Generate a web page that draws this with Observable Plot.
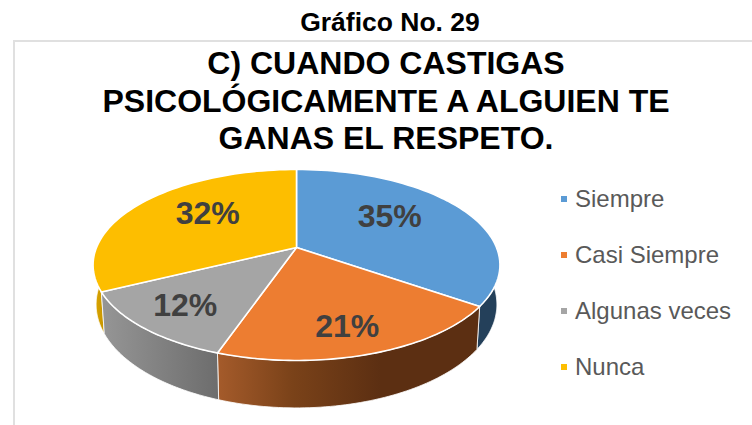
<!DOCTYPE html>
<html><head><meta charset="utf-8">
<script src="https://cdn.jsdelivr.net/npm/d3@7"></script>
<script src="https://cdn.jsdelivr.net/npm/@observablehq/plot@0.6"></script>
<style>
html,body{margin:0;padding:0;background:#fff;overflow:hidden}
#page{position:relative;width:752px;height:425px;font-family:"Liberation Sans",Arial,sans-serif;overflow:hidden}
#head{position:absolute;left:0;width:780px;top:7px;text-align:center;font-size:26.5px;line-height:30px;font-weight:bold;color:#000}
#frame{position:absolute;left:13px;top:40px;width:760px;height:400px;border-left:2px solid #e0e0e0;border-top:2px solid #e0e0e0}
#title{position:absolute;left:0;width:772px;top:45px;text-align:center;font-size:32px;line-height:37.5px;font-weight:bold;color:#000}
#chart{position:absolute;left:10px;top:160px}
#chart svg{display:block;overflow:visible;background:none}
.li{position:absolute;left:575px;font-size:24px;line-height:28px;color:#595959;white-space:nowrap}
.sw{position:absolute;left:561px;width:6px;height:6px}
</style></head><body>
<div id="page">
<div id="head"></div><div id="frame"></div><div id="title"></div><div id="chart"></div>
</div>
<script>
const heading = "Gráfico No. 29";
const titleLines = ["C) CUANDO CASTIGAS","PSICOLÓGICAMENTE A ALGUIEN TE","GANAS EL RESPETO."];
const categories = ["Siempre","Casi Siempre","Algunas veces","Nunca"];
const values = [34.7,20.6,12.4,32.3];
const colors = ["#5B9BD5","#ED7D31","#A5A5A5","#FDBE00"];

// layout of the tilted pie
const apex = [296,247], A = 200, B = 92.3, k = 0.183;
const apexLow = [296,285], ALow = 197, BLow = 100;
const labelRadius = [.55,.78,.76,.55], labelShift = [[0,-8],[-5,0],[1,0],[0,-8]];
const legendY = [199,255,311,367];

const rim = (t, r=1, c=apex, a=A, b=B) => {
  const th = t*Math.PI/180, w = 1 + k*r*Math.cos(th);
  return [c[0] + a*r*Math.sin(th)/w, c[1] - b*r*Math.cos(th)/w];
};
const total = d3.sum(values);
let acc = 0;
const slices = categories.map((name,i)=>{
  const start = acc/total*360; acc += values[i]; const end = acc/total*360;
  return {name, i, start, end, value: values[i]};
});
const arc = (a,b,f) => d3.range(0,61).map(j=>f(a+(b-a)*j/60));

const topPts = slices.flatMap(s=>{
  const ring = [apex, ...arc(s.start,s.end,t=>rim(t)), apex];
  return ring.map(([x,y])=>({x,y,name:s.name}));
});
const sidePts = (s,a,b)=>[
  ...arc(a,b,t=>rim(t)),
  ...arc(b,a,t=>rim(t,1,apexLow,ALow,BLow)),
  rim(a)
].map(([x,y])=>({x,y,name:s.name}));

const sides = [
  {s:slices[0],fill:"#24405A"},
  {s:slices[3],fill:"url(#gy)"},
  {s:slices[1],fill:"url(#go)"},
  {s:slices[2],fill:"url(#gg)"}
].map(d=>{
  const [a,b] = d.s.i===0 ? [90,d.s.end] : d.s.i===3 ? [d.s.start,270] : [d.s.start,d.s.end];
  return Plot.line(sidePts(d.s,a,b),{x:"x",y:"y",fill:d.fill,stroke:"#fff",strokeWidth:1,strokeOpacity:.8,curve:"linear"});
});

const labels = slices.map((s,i)=>{
  const p = rim((s.start+s.end)/2,labelRadius[i]);
  return {x:p[0]+labelShift[i][0],y:p[1]+labelShift[i][1],text:Math.round(s.value)+"%"};
});

const plot = Plot.plot({
  width:540,height:265,margin:0,
  style:{background:"none"},
  x:{domain:[10,550],range:[0,540],axis:null},
  y:{domain:[160,425],range:[0,265],axis:null},
  color:{domain:categories,range:colors},
  marks:[
    ...sides,
    Plot.line(topPts,{x:"x",y:"y",z:"name",fill:"name",stroke:"#fff",strokeWidth:1.6,curve:"linear",strokeLinejoin:"round"}),
    Plot.text(labels,{x:"x",y:"y",text:"text",fontSize:32,fontWeight:"bold",fontFamily:"Liberation Sans",fill:"#404040"})
  ]
});
const defs = d3.select(plot).insert("defs",":first-child");
const grad = (id,x1,x2,stops)=>{
  const g = defs.append("linearGradient").attr("id",id).attr("gradientUnits","userSpaceOnUse")
    .attr("x1",x1-10).attr("x2",x2-10).attr("y1",0).attr("y2",0);
  stops.forEach(([o,c])=>g.append("stop").attr("offset",o).attr("stop-color",c));
};
grad("go",220,380,[[0,"#A35A2A"],[.45,"#7A4219"],[1,"#5C2F12"]]);
grad("gg",100,220,[[0,"#969696"],[1,"#6C6C6C"]]);
grad("gy",93,103,[[0,"#E0A800"],[1,"#C79600"]]);
document.getElementById("chart").append(plot);

document.getElementById("head").textContent = heading;
document.getElementById("title").innerHTML = titleLines.map(t=>`<div>${t}</div>`).join("");
const page = d3.select("#page");
categories.forEach((c,i)=>{
  page.append("div").attr("class","sw").style("top",(legendY[i]-3)+"px").style("background",colors[i]);
  page.append("div").attr("class","li").style("top",(legendY[i]-14)+"px").text(c);
});
</script>
</body></html>
